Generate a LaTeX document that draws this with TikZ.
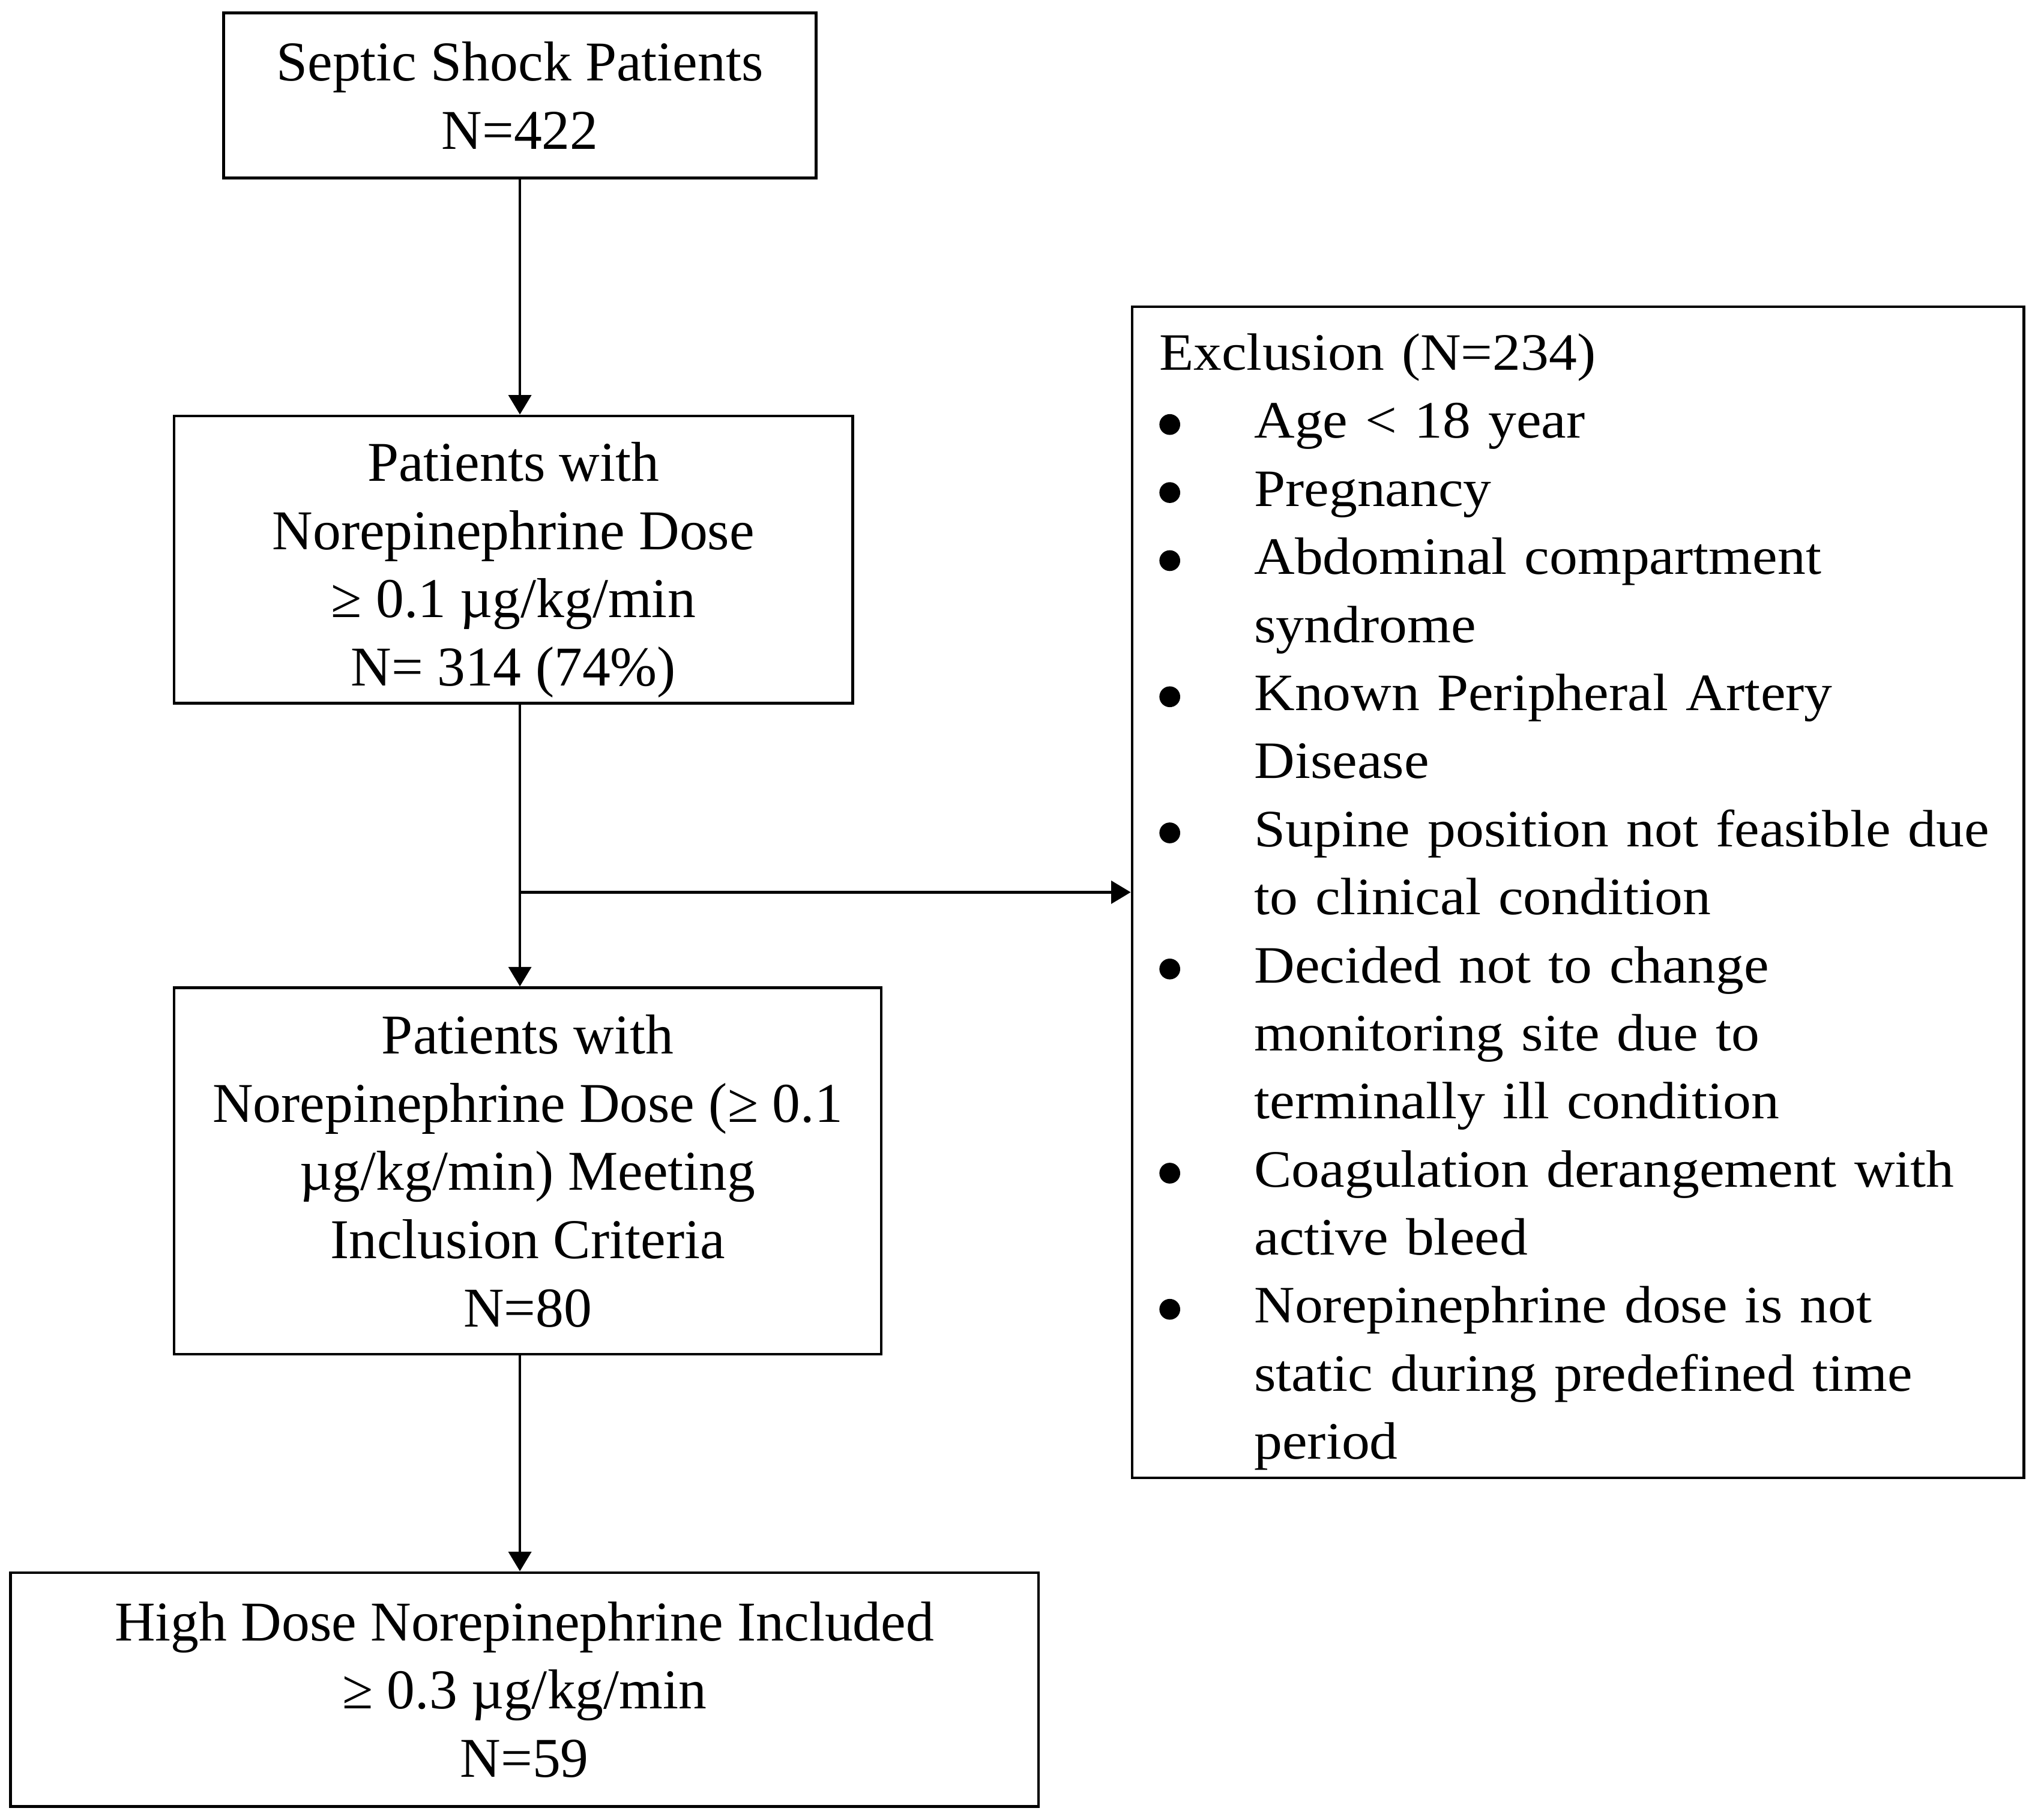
\documentclass[tikz,border=0pt]{standalone}
\usepackage{fontspec}
\setmainfont{Liberation Serif}
\newfontfamily\exclfont{Liberation Serif}[FakeStretch=1.07]
\usetikzlibrary {arrows.meta,
                 positioning}
\newcommand{\bdot}{\tikz[baseline=0pt]\fill (0.16,0.21) circle (0.16);}
\newcommand{\excitem}[1]{\makebox[1.46cm][l]{\bdot}#1}
\newcommand{\exccont}[1]{\hspace*{1.46cm}#1}
\tikzset{
        base/.style={draw, line width=1.2pt, align=center, inner xsep=0.2cm,
                     inner ysep=0pt},
        flow/.style={base, rectangle,
                     font=\fontsize{24.6pt}{29.9pt}\selectfont},
        excl/.style={base, rectangle, align=left, text width=12.88cm,
                     inner xsep=0.42cm,
                     font=\exclfont\fontsize{23pt}{29.8pt}\selectfont},
        myarrow/.style={-{Triangle[length=0.3cm, width=0.35cm]}, line width=1.1pt},
 }
\begin{document}
\begin{tikzpicture}
    \useasboundingbox (0,0) rectangle (31.36,-28);
    \node[flow, minimum width=9.12cm, minimum height=2.54cm] (sept) at (8,-1.47)
         {Septic Shock Patients\\N=422};
    \node[flow, minimum width=10.44cm, minimum height=4.42cm] (nor) at (7.9,-8.61)
         {\rule{0pt}{0.92cm}Patients with\\Norepinephrine Dose\\≥ 0.1 µg/kg/min\\N= 314 (74\%)};
    \node[flow, minimum width=10.88cm, minimum height=5.64cm] (incl) at (8.12,-18.02)
         {Patients with\\Norepinephrine Dose (≥ 0.1\\µg/kg/min) Meeting\\Inclusion Criteria\\N=80};
    \node[flow, minimum width=15.82cm, minimum height=3.6cm] (high) at (8.07,-26)
         {High Dose Norepinephrine Included\\≥ 0.3 µg/kg/min\\N=59};
    \node[excl, minimum height=18.02cm] (exc) at (24.28,-13.73)
         {\rule{0pt}{0.86cm}Exclusion (N=234)\\
          \excitem{Age < 18 year}\\
          \excitem{Pregnancy}\\
          \excitem{Abdominal compartment}\\
          \exccont{syndrome}\\
          \excitem{Known Peripheral Artery}\\
          \exccont{Disease}\\
          \excitem{Supine position not feasible due}\\
          \exccont{to clinical condition}\\
          \excitem{Decided not to change}\\
          \exccont{monitoring site due to}\\
          \exccont{terminally ill condition}\\
          \excitem{Coagulation derangement with}\\
          \exccont{active bleed}\\
          \excitem{Norepinephrine dose is not}\\
          \exccont{static during predefined time}\\
          \exccont{period}};

    \coordinate (split) at (sept.south |- exc.west);
    \draw[myarrow] (sept.south) -- (sept.south |- nor.north);
    \draw[myarrow] (sept.south |- nor.south) -- (sept.south |- incl.north);
    \draw[myarrow] (split) -- (exc.west);
    \draw[myarrow] (sept.south |- incl.south) -- (sept.south |- high.north);
\end{tikzpicture}
\end{document}
